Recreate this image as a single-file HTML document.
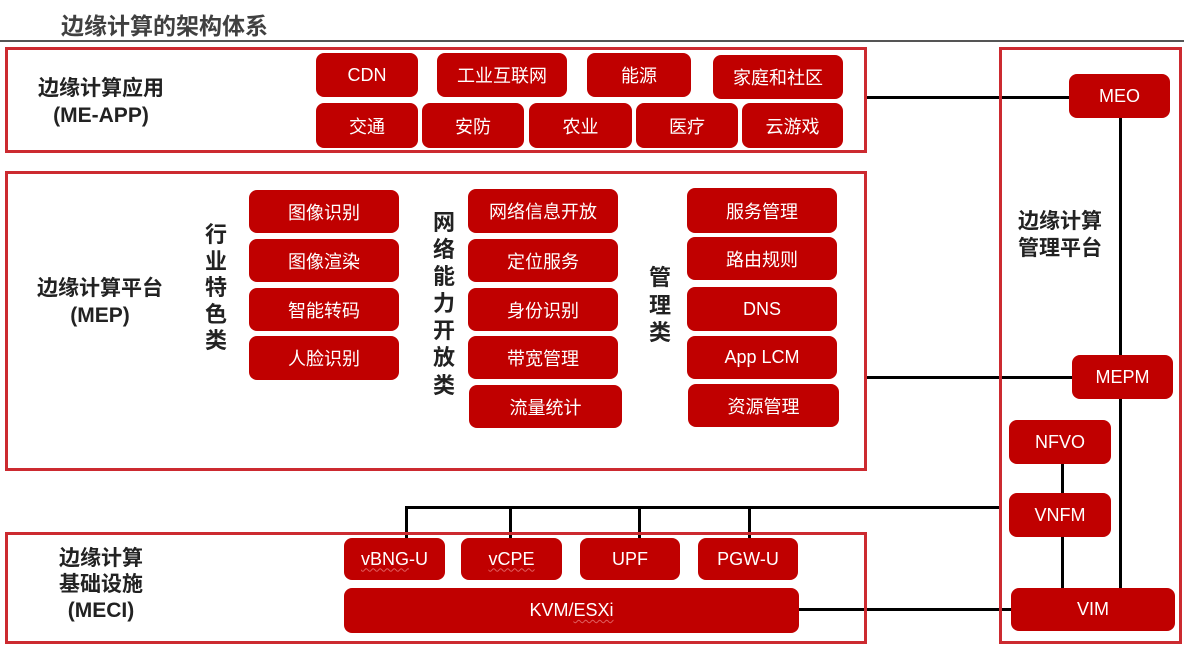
<!DOCTYPE html>
<html>
<head>
<meta charset="utf-8">
<style>
html,body{margin:0;padding:0;background:#fff;}
body{width:1184px;height:649px;position:relative;overflow:hidden;font-family:"Liberation Sans","Noto Sans CJK SC",sans-serif;}
.a{position:absolute;}
.frame{position:absolute;box-sizing:border-box;border:3px solid #cc2a30;}
.b{position:absolute;box-sizing:border-box;background:#c00000;border-radius:8px;color:#fff;font-size:18px;display:flex;align-items:center;justify-content:center;white-space:nowrap;font-family:"Liberation Sans","Noto Sans CJK SC",sans-serif;}
.h{position:absolute;background:#000;height:3px;}
.v{position:absolute;background:#000;width:3px;}
.lab{position:absolute;font-weight:bold;color:#222;font-size:21px;text-align:center;line-height:27px;white-space:nowrap;font-family:"Liberation Sans","Noto Sans CJK SC",sans-serif;}
.vl{position:absolute;font-weight:bold;color:#222;font-size:22px;text-align:center;width:30px;font-family:"Liberation Sans","Noto Sans CJK SC",sans-serif;}
.w{text-decoration:underline wavy #e06060;text-decoration-thickness:1px;text-underline-offset:3px;}
</style>
</head>
<body>
<!-- title -->
<div class="a" style="left:61px;top:11px;font-size:23px;font-weight:bold;color:#404040;line-height:30px;white-space:nowrap;">边缘计算的架构体系</div>
<div class="a" style="left:0;top:40px;width:1184px;height:2px;background:#555;"></div>

<!-- connectors (drawn first) -->
<div class="h" style="left:866px;top:96px;width:205px;"></div>
<div class="v" style="left:1119px;top:116px;height:474px;"></div>
<div class="h" style="left:866px;top:376px;width:208px;"></div>
<div class="v" style="left:1061px;top:462px;height:128px;"></div>
<div class="h" style="left:405px;top:506px;width:594px;"></div>
<div class="v" style="left:405px;top:506px;height:33px;"></div>
<div class="v" style="left:509px;top:506px;height:33px;"></div>
<div class="v" style="left:638px;top:506px;height:33px;"></div>
<div class="v" style="left:748px;top:506px;height:33px;"></div>
<div class="h" style="left:797px;top:608px;width:216px;"></div>

<!-- frames -->
<div class="frame" style="left:5px;top:47px;width:862px;height:106px;"></div>
<div class="frame" style="left:5px;top:171px;width:862px;height:300px;"></div>
<div class="frame" style="left:5px;top:532px;width:862px;height:112px;"></div>
<div class="frame" style="left:999px;top:47px;width:183px;height:597px;"></div>

<!-- ME-APP -->
<div class="lab" style="left:20px;top:75px;width:162px;">边缘计算应用<br>(ME-APP)</div>
<div class="b" style="left:316px;top:53px;width:102px;height:44px;">CDN</div>
<div class="b" style="left:437px;top:53px;width:130px;height:44px;">工业互联网</div>
<div class="b" style="left:587px;top:53px;width:104px;height:44px;">能源</div>
<div class="b" style="left:713px;top:55px;width:130px;height:44px;">家庭和社区</div>
<div class="b" style="left:316px;top:103px;width:102px;height:45px;">交通</div>
<div class="b" style="left:422px;top:103px;width:102px;height:45px;">安防</div>
<div class="b" style="left:529px;top:103px;width:103px;height:45px;">农业</div>
<div class="b" style="left:636px;top:103px;width:102px;height:45px;">医疗</div>
<div class="b" style="left:742px;top:103px;width:101px;height:45px;">云游戏</div>

<!-- MEP -->
<div class="lab" style="left:20px;top:275px;width:160px;">边缘计算平台<br>(MEP)</div>
<div class="vl" style="left:201px;top:222px;line-height:26.6px;">行<br>业<br>特<br>色<br>类</div>
<div class="b" style="left:249px;top:190px;width:150px;height:43px;">图像识别</div>
<div class="b" style="left:249px;top:239px;width:150px;height:43px;">图像渲染</div>
<div class="b" style="left:249px;top:288px;width:150px;height:43px;">智能转码</div>
<div class="b" style="left:249px;top:336px;width:150px;height:44px;">人脸识别</div>

<div class="vl" style="left:429px;top:209px;line-height:27.1px;">网<br>络<br>能<br>力<br>开<br>放<br>类</div>
<div class="b" style="left:468px;top:189px;width:150px;height:44px;">网络信息开放</div>
<div class="b" style="left:468px;top:239px;width:150px;height:43px;">定位服务</div>
<div class="b" style="left:468px;top:288px;width:150px;height:43px;">身份识别</div>
<div class="b" style="left:468px;top:336px;width:150px;height:43px;">带宽管理</div>
<div class="b" style="left:469px;top:385px;width:153px;height:43px;">流量统计</div>

<div class="vl" style="left:645px;top:264px;line-height:27.5px;">管<br>理<br>类</div>
<div class="b" style="left:687px;top:188px;width:150px;height:45px;">服务管理</div>
<div class="b" style="left:687px;top:237px;width:150px;height:43px;">路由规则</div>
<div class="b" style="left:687px;top:287px;width:150px;height:44px;">DNS</div>
<div class="b" style="left:687px;top:336px;width:150px;height:43px;">App LCM</div>
<div class="b" style="left:688px;top:384px;width:151px;height:43px;">资源管理</div>

<!-- MECI -->
<div class="lab" style="left:30px;top:546px;width:142px;line-height:26px;">边缘计算<br>基础设施<br>(MECI)</div>
<div class="b" style="left:344px;top:538px;width:101px;height:42px;"><span class="w">vBNG</span>-U</div>
<div class="b" style="left:461px;top:538px;width:101px;height:42px;"><span class="w">vCPE</span></div>
<div class="b" style="left:580px;top:538px;width:100px;height:42px;">UPF</div>
<div class="b" style="left:698px;top:538px;width:100px;height:42px;">PGW-U</div>
<div class="b" style="left:344px;top:588px;width:455px;height:45px;">KVM/<span class="w">ESXi</span></div>

<!-- management platform -->
<div class="lab" style="left:1000px;top:208px;width:120px;">边缘计算<br>管理平台</div>
<div class="b" style="left:1069px;top:74px;width:101px;height:44px;">MEO</div>
<div class="b" style="left:1072px;top:355px;width:101px;height:44px;">MEPM</div>
<div class="b" style="left:1009px;top:420px;width:102px;height:44px;">NFVO</div>
<div class="b" style="left:1009px;top:493px;width:102px;height:44px;">VNFM</div>
<div class="b" style="left:1011px;top:588px;width:164px;height:43px;">VIM</div>
</body>
</html>
